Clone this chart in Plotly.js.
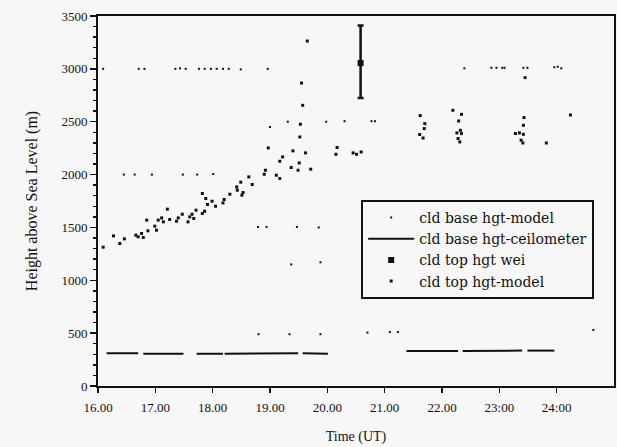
<!DOCTYPE html>
<html>
<head>
<meta charset="utf-8">
<script src="https://cdn.plot.ly/plotly-3.0.1.min.js"></script>
<style>
  html, body { margin: 0; padding: 0; background: #f7f7f7; }
  #chart { width: 617px; height: 447px; }
</style>
</head>
<body>
<div id="chart"></div>
<script>
// Cloud base heights from the model (quantised model levels), hours UT / metres
const baseModelTime = [
  16.09, 16.71, 16.81, 17.35, 17.43, 17.53, 17.76, 17.86, 17.97, 18.07, 18.18, 18.28, 18.49, 18.96,
  16.45, 16.64, 16.94, 17.48, 17.73, 18.01,
  19.00, 19.31, 19.98, 20.30, 20.77, 20.83,
  18.79, 18.94, 19.47, 19.85,
  19.37, 19.88,
  18.80, 19.34, 19.88, 20.70, 21.09, 21.23, 24.64,
  22.39, 22.86, 22.95, 23.05, 23.09, 23.42, 23.49, 23.96, 24.02, 24.08
];
const baseModelHeight = [
  3000, 3000, 3000, 3000, 3005, 3000, 3000, 3000, 3000, 3000, 3000, 3000, 2995, 3000,
  2000, 2000, 2000, 2000, 2000, 2005,
  2450, 2500, 2500, 2505, 2505, 2505,
  1505, 1505, 1505, 1500,
  1150, 1170,
  490, 490, 490, 505, 510, 510, 530,
  3005, 3010, 3010, 3010, 3010, 3010, 3010, 3015, 3020, 3005
];

// Ceilometer cloud base (continuous record, gaps where no return)
const ceilTime = [16.15, 16.70, null, 16.79, 17.49, null, 17.72, 18.18, null, 18.21, 19.49, null,
                  19.57, 20.01, null, 21.38, 22.28, null, 22.36, 23.40, null, 23.49, 23.96];
const ceilHeight = [310, 310, null, 305, 305, null, 305, 305, null, 305, 310, null,
                    310, 305, null, 330, 330, null, 330, 335, null, 335, 335];

// Cloud top height (wei) with uncertainty
const weiTime = [20.58];
const weiHeight = [3055];
const weiErrPlus = [355];
const weiErrMinus = [330];

// Cloud top heights from the model
const topModelTime = [
  16.09, 16.27, 16.38, 16.46, 16.66, 16.70, 16.76, 16.79, 16.87, 16.85, 16.99, 17.02, 17.05, 17.11,
  17.14, 17.21, 17.25, 17.37, 17.40, 17.47, 17.57, 17.60, 17.64, 17.67, 17.71, 17.82, 17.82, 17.86,
  17.88, 17.91, 17.99, 18.05, 18.18, 18.20, 18.30, 18.42, 18.43, 18.49, 18.51, 18.53, 18.63, 18.69,
  18.90, 18.92, 18.97, 19.11, 19.17, 19.17, 19.22, 19.37, 19.40, 19.49, 19.51, 19.52, 19.53, 19.57,
  19.55, 19.65, 19.62, 19.71, 20.15, 20.17, 20.45, 20.51, 20.59,
  21.61, 21.62, 21.67, 21.69, 21.70,
  22.19, 22.26, 22.28, 22.29, 22.31, 22.32, 22.34, 22.34,
  23.28, 23.35, 23.38, 23.41, 23.42, 23.42, 23.43, 23.45, 23.82, 24.24
];
const topModelHeight = [
  1313, 1420, 1348, 1392, 1427, 1411, 1443, 1405, 1468, 1569, 1512, 1474, 1569, 1590,
  1553, 1673, 1575, 1559, 1590, 1625, 1553, 1600, 1625, 1585, 1663, 1821, 1632, 1654,
  1774, 1717, 1748, 1701, 1732, 1764, 1814, 1883, 1852, 1928, 1805, 1830, 1978, 1906,
  2003, 2041, 2252, 1994, 1963, 2126, 2167, 2067, 2224, 2041, 2110, 2356, 2476, 2655,
  2866, 3263, 2205, 2051, 2192, 2256, 2205, 2192, 2214,
  2379, 2558, 2346, 2435, 2482,
  2608, 2394, 2341, 2507, 2309, 2419, 2570, 2388,
  2388, 2394, 2325, 2299, 2466, 2381, 2539, 2917, 2299, 2564
];

// Axis ticks
const xTickVals = [16, 17, 18, 19, 20, 21, 22, 23, 24];
const xTickText = ['16.00', '17.00', '18.00', '19.00', '20.00', '21.00', '22.00', '23:00', '24:00'];
const yTickVals = [0, 500, 1000, 1500, 2000, 2500, 3000, 3500];

const ink = '#111';
const serif = 'Liberation Serif, Times New Roman, serif';
const wideSerif = 'DejaVu Serif, serif';

const traces = [
  {
    name: 'cld base hgt-model',
    x: baseModelTime, y: baseModelHeight,
    mode: 'markers', type: 'scatter',
    marker: { color: ink, size: 2, symbol: 'square' }
  },
  {
    name: 'cld base hgt-ceilometer',
    x: ceilTime, y: ceilHeight,
    mode: 'lines', type: 'scatter',
    line: { color: ink, width: 2 },
    connectgaps: false
  },
  {
    name: 'cld top hgt wei',
    x: weiTime, y: weiHeight,
    mode: 'markers', type: 'scatter',
    marker: { color: ink, size: 6, symbol: 'square' },
    error_y: { type: 'data', symmetric: false, array: weiErrPlus, arrayminus: weiErrMinus,
               color: ink, thickness: 2.5, width: 3 }
  },
  {
    name: 'cld top hgt-model',
    x: topModelTime, y: topModelHeight,
    mode: 'markers', type: 'scatter',
    marker: { color: ink, size: 3, symbol: 'square' }
  }
];

const layout = {
  width: 617, height: 447,
  margin: { l: 98, r: 3, t: 16, b: 61 },
  paper_bgcolor: '#f7f7f7',
  plot_bgcolor: '#f7f7f7',
  font: { family: serif, size: 13, color: ink },
  showlegend: true,
  legend: {
    x: 0.51, y: 0.503, xanchor: 'left', yanchor: 'top',
    bgcolor: '#f7f7f7', bordercolor: ink, borderwidth: 2,
    font: { family: wideSerif, size: 14, color: ink },
    itemwidth: 46
  },
  xaxis: {
    range: [16, 25],
    tickmode: 'array', tickvals: xTickVals, ticktext: xTickText,
    ticks: 'outside', ticklen: 5, tickwidth: 1.5, tickcolor: ink,
    ticklabelstandoff: 3,
    showline: true, linecolor: ink, linewidth: 2, mirror: true,
    showgrid: false, zeroline: false,
    tickfont: { family: serif, size: 13, color: ink },
    title: { text: 'Time (UT)', font: { family: serif, size: 14, color: ink }, standoff: 18 }
  },
  yaxis: {
    range: [0, 3500],
    tickmode: 'array', tickvals: yTickVals,
    ticks: 'outside', ticklen: 6, tickwidth: 1.5, tickcolor: ink,
    minor: { dtick: 100, ticks: 'outside', ticklen: 3, tickcolor: ink, showgrid: false },
    showline: true, linecolor: ink, linewidth: 2, mirror: true,
    showgrid: false, zeroline: false,
    tickfont: { family: serif, size: 13, color: ink },
    title: { text: 'Height above Sea Level (m)', font: { family: serif, size: 16, color: ink }, standoff: 20 }
  }
};

Plotly.newPlot('chart', traces, layout, { displayModeBar: false, staticPlot: true });
</script>
</body>
</html>
